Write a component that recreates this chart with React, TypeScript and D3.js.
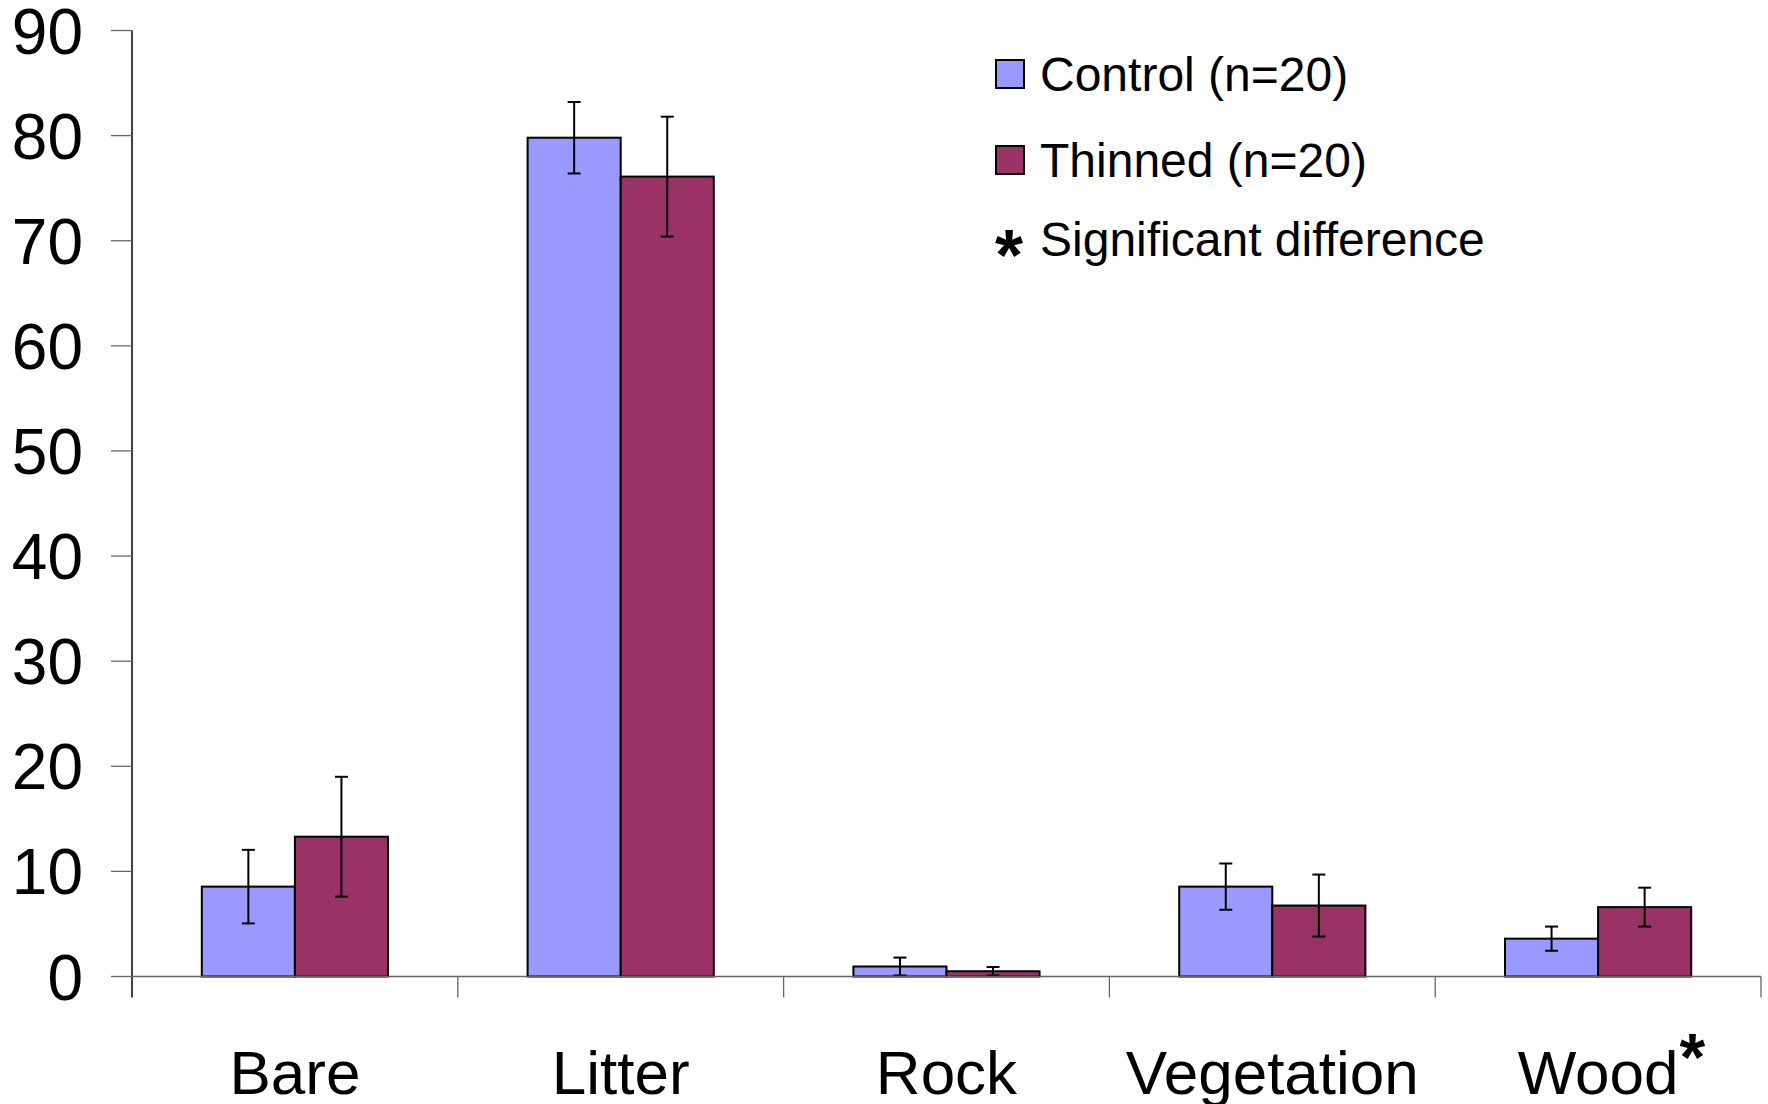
import React, { useEffect, useRef } from "react";
import * as d3 from "d3";

const width = 1768;
const height = 1104;

const categories = ["Bare", "Litter", "Rock", "Vegetation", "Wood"];
const series = ["Control (n=20)", "Thinned (n=20)"];
const colors = ["#9999FF", "#993366"];
const controlMeans = [8.55, 79.8, 0.95, 8.55, 3.6];
const controlErr = [3.5, 3.4, 0.85, 2.2, 1.15];
const thinnedMeans = [13.3, 76.1, 0.5, 6.75, 6.6];
const thinnedErr = [5.7, 5.7, 0.4, 2.95, 1.85];
const significant = ["Wood"];
const yTicks = [0, 10, 20, 30, 40, 50, 60, 70, 80, 90];

const margin = { left: 132, right: 7, top: 30.5, bottom: 127.5 };

const App: React.FC = () => {
  const svgRef = useRef<SVGSVGElement | null>(null);

  useEffect(() => {
    if (!svgRef.current) return;
    const svg = d3.select(svgRef.current);
    svg.selectAll("*").remove();

    const font = "'Liberation Sans', Arial, sans-serif";

    const x = d3
      .scaleBand<string>()
      .domain(categories)
      .range([margin.left, width - margin.right]);
    const inner = d3
      .scaleBand<string>()
      .domain(series)
      .range([0, x.bandwidth()])
      .paddingOuter(0.75)
      .paddingInner(0);
    const y = d3
      .scaleLinear()
      .domain([0, 90])
      .range([height - margin.bottom, margin.top]);

    const data = categories.flatMap((c, i) => [
      { cat: c, s: series[0], v: controlMeans[i], e: controlErr[i], color: colors[0] },
      { cat: c, s: series[1], v: thinnedMeans[i], e: thinnedErr[i], color: colors[1] },
    ]);

    // bars
    svg
      .append("g")
      .selectAll("rect")
      .data(data)
      .enter()
      .append("rect")
      .attr("x", (d) => x(d.cat)! + inner(d.s)!)
      .attr("y", (d) => y(d.v))
      .attr("width", inner.bandwidth())
      .attr("height", (d) => y(0) - y(d.v))
      .attr("fill", (d) => d.color)
      .attr("stroke", "#000")
      .attr("stroke-width", 2);

    // error bars
    const eb = svg.append("g").attr("stroke", "#000").attr("stroke-width", 2);
    data.forEach((d) => {
      const cx = x(d.cat)! + inner(d.s)! + inner.bandwidth() / 2;
      const lo = Math.max(0, d.v - d.e);
      const hi = d.v + d.e;
      eb.append("line").attr("x1", cx).attr("x2", cx).attr("y1", y(lo)).attr("y2", y(hi));
      eb.append("line").attr("x1", cx - 6.5).attr("x2", cx + 6.5).attr("y1", y(lo)).attr("y2", y(lo));
      eb.append("line").attr("x1", cx - 6.5).attr("x2", cx + 6.5).attr("y1", y(hi)).attr("y2", y(hi));
    });

    // y axis
    const yAxis = svg.append("g");
    yAxis
      .append("line")
      .attr("x1", margin.left)
      .attr("x2", margin.left)
      .attr("y1", y(90))
      .attr("y2", y(0) + 21)
      .attr("stroke", "#000")
      .attr("stroke-width", 1.5);
    yTicks.forEach((t) => {
      yAxis
        .append("line")
        .attr("x1", margin.left - 21)
        .attr("x2", margin.left)
        .attr("y1", y(t))
        .attr("y2", y(t))
        .attr("stroke", "#666")
        .attr("stroke-width", 1.3);
      yAxis
        .append("text")
        .attr("x", 83)
        .attr("y", y(t))
        .attr("dy", "0.36em")
        .attr("text-anchor", "end")
        .attr("font-family", font)
        .attr("font-size", 64)
        .attr("fill", "#000")
        .text(t);
    });

    // x axis
    const xAxis = svg.append("g");
    xAxis
      .append("line")
      .attr("x1", margin.left)
      .attr("x2", width - margin.right)
      .attr("y1", y(0))
      .attr("y2", y(0))
      .attr("stroke", "#666")
      .attr("stroke-width", 1.3);
    categories.forEach((c) => {
      const edge = x(c)! + x.bandwidth();
      xAxis
        .append("line")
        .attr("x1", edge)
        .attr("x2", edge)
        .attr("y1", y(0))
        .attr("y2", y(0) + 21)
        .attr("stroke", "#666")
        .attr("stroke-width", 1.3);
      const cx = x(c)! + x.bandwidth() / 2;
      const label = xAxis
        .append("text")
        .attr("x", cx)
        .attr("y", 1094)
        .attr("text-anchor", "middle")
        .attr("font-family", font)
        .attr("font-size", 62)
        .attr("fill", "#000")
        .text(c);
      if (significant.includes(c)) {
        const w = (label.node() as SVGTextElement).getComputedTextLength();
        xAxis
          .append("text")
          .attr("x", cx + w / 2 + 1)
          .attr("y", 1080)
          .attr("font-family", font)
          .attr("font-size", 66)
          .attr("font-weight", "bold")
          .attr("fill", "#000")
          .text("*");
      }
    });

    // legend
    const legend = svg.append("g").attr("font-family", font).attr("font-size", 48);
    series.forEach((s, i) => {
      const cy = 74 + i * 86;
      legend
        .append("rect")
        .attr("x", 996)
        .attr("y", cy - 14)
        .attr("width", 28)
        .attr("height", 28)
        .attr("fill", colors[i])
        .attr("stroke", "#000")
        .attr("stroke-width", 2);
      legend
        .append("text")
        .attr("x", 1040)
        .attr("y", cy)
        .attr("dy", "0.36em")
        .text(s);
    });
    legend
      .append("text")
      .attr("x", 995)
      .attr("y", 280)
      .attr("font-size", 72)
      .attr("font-weight", "bold")
      .text("*");
    legend
      .append("text")
      .attr("x", 1040)
      .attr("y", 239)
      .attr("dy", "0.36em")
      .text("Significant difference");

    return () => {
      svg.selectAll("*").remove();
    };
  }, []);

  return (
    <svg
      ref={svgRef}
      width={width}
      height={height}
      style={{ position: "absolute", left: 0, top: 0, background: "#fff" }}
    />
  );
};

export default App;
